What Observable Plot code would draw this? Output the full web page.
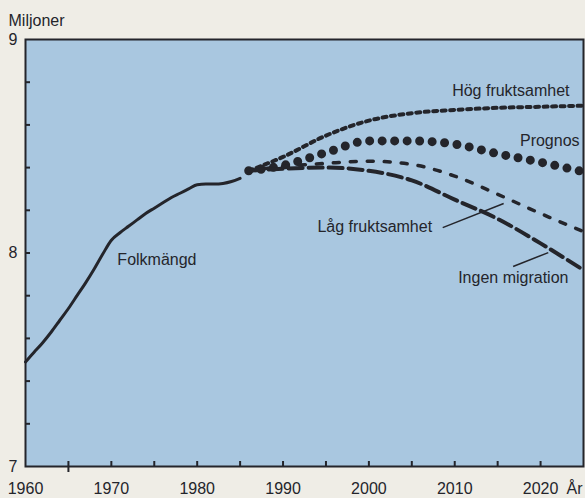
<!DOCTYPE html>
<html><head><meta charset="utf-8">
<script src="https://cdn.jsdelivr.net/npm/d3@7"></script>
<script src="https://cdn.jsdelivr.net/npm/@observablehq/plot@0.6"></script>
<style>
html,body{margin:0;padding:0;background:#efede6;}
#chart svg{display:block;}
</style></head><body><div id="chart"></div>
<script>
// Observed population (millions)
const histYears  = [1960,1961,1962,1963,1964,1965,1966,1967,1968,1969,1970,1971,1972,1973,1974,1975,1976,1977,1978,1979,1980,1981,1982,1983,1984,1985];
const histValues = [7.49,7.535,7.58,7.63,7.685,7.74,7.80,7.86,7.925,7.995,8.06,8.095,8.125,8.155,8.185,8.21,8.235,8.26,8.28,8.30,8.32,8.323,8.323,8.326,8.335,8.35];

// Projections (millions)
const projYears = [1986,1990,1995,2000,2005,2010,2015,2020,2025];
const hogFrukt  = [8.385,8.45,8.55,8.62,8.655,8.67,8.68,8.685,8.69];
const prognos   = [8.385,8.41,8.47,8.525,8.525,8.51,8.465,8.425,8.38];
const lagFrukt  = [8.385,8.405,8.42,8.43,8.415,8.36,8.275,8.185,8.10];
const ingenMigr = [8.385,8.395,8.40,8.385,8.34,8.25,8.16,8.045,7.92];

// Axes
const xLabelYears = [1960,1970,1980,1990,2000,2010,2020];
const xTickYears  = [1965,1970,1975,1980,1985,1990,1995,2000,2005,2010,2015,2020];
const yLabelValues = [7,8,9];
const yTickValues  = [7.2,7.4,7.6,7.8,8,8.2,8.4,8.6,8.8];

// Series labels (anchor in data coordinates)
const seriesLabels = [
  {text: "Hög fruktsamhet", year: 2009.7, value: 8.761},
  {text: "Prognos",         year: 2017.6, value: 8.525},
  {text: "Låg fruktsamhet", year: 1994.0, value: 8.122},
  {text: "Ingen migration", year: 2010.4, value: 7.883},
  {text: "Folkmängd",       year: 1970.7, value: 7.970}
];
const leaders = [
  {x1: 2008.6, y1: 8.119, x2: 2015.7, y2: 8.232},
  {x1: 2016.8, y1: 7.937, x2: 2020.9, y2: 8.002}
];

const W = 585, H = 498, mL = 25, mR = 2, mT = 39, mB = 32;
const pxY = (9 - 7) / (H - mT - mB);   // data units per pixel
const pxX = (2025 - 1960) / (W - mL - mR);
const ink = "#24252b";
const font = "'Liberation Sans', Arial, sans-serif";

const hist = histYears.map((y, i) => ({year: y, value: histValues[i]}));
const mk = arr => projYears.map((y, i) => ({year: y, value: arr[i]}));

const chart = Plot.plot({
  width: W, height: H,
  marginLeft: mL, marginRight: mR, marginTop: mT, marginBottom: mB,
  style: {background: "#efede6", fontFamily: font, color: ink},
  x: {domain: [1960, 2025], axis: null},
  y: {domain: [7, 9], axis: null},
  marks: [
    Plot.frame({fill: "#a9c7e0", stroke: "none"}),
    // tick marks
    Plot.ruleX(xTickYears, {x: d => d, y1: d => d === 1965 ? 7 - 6 * pxY : 7, y2: 7 + 5 * pxY, stroke: ink, strokeWidth: 2}),
    Plot.ruleY(yTickValues, {y: d => d, x1: 1960, x2: 1960 + 5 * pxX, stroke: ink, strokeWidth: 2}),
    Plot.frame({stroke: ink, strokeWidth: 2}),
    // lines
    Plot.line(hist, {x: "year", y: "value", stroke: ink, strokeWidth: 3, curve: "monotone-x"}),
    Plot.line(mk(hogFrukt), {x: "year", y: "value", stroke: ink, strokeWidth: 4, strokeDasharray: "4,4.5", curve: "monotone-x"}),
    Plot.line(mk(prognos), {x: "year", y: "value", stroke: ink, strokeWidth: 9, strokeLinecap: "round", strokeDasharray: "0,12.5", curve: "monotone-x"}),
    Plot.line(mk(lagFrukt), {x: "year", y: "value", stroke: ink, strokeWidth: 3.5, strokeDasharray: "6,11", curve: "monotone-x"}),
    Plot.line(mk(ingenMigr), {x: "year", y: "value", stroke: ink, strokeWidth: 4, strokeDasharray: "14,6", curve: "monotone-x"}),
    // leader lines
    Plot.link(leaders, {x1: "x1", y1: "y1", x2: "x2", y2: "y2", stroke: ink, strokeWidth: 1.5}),
    // series labels
    Plot.text(seriesLabels, {x: "year", y: "value", text: "text", textAnchor: "start", lineAnchor: "middle", fontSize: 16, fill: ink}),
    // axis labels
    Plot.text(yLabelValues, {x: 1960, y: d => d, text: d => String(d), textAnchor: "end", lineAnchor: "middle", dx: -8, fontSize: 16, fill: ink}),
    Plot.text(xLabelYears, {x: d => d, y: 7, text: d => String(d), lineAnchor: "middle", dy: 22.5, fontSize: 16, fill: ink}),
    Plot.text(["År"], {x: 2025, y: 7, text: d => d, textAnchor: "end", lineAnchor: "middle", dx: -1, dy: 22.5, fontSize: 16, fill: ink}),
    Plot.text(["Miljoner"], {frameAnchor: "top-left", text: d => d, textAnchor: "start", lineAnchor: "middle", dx: -17, dy: -19, fontSize: 16, fill: ink})
  ]
});
document.getElementById("chart").appendChild(chart);
</script>
</body></html>
